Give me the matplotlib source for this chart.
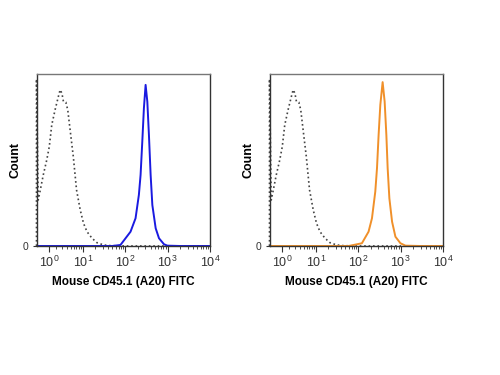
import numpy as np
import matplotlib
matplotlib.use('Agg')
import matplotlib.pyplot as plt
from matplotlib.ticker import FixedLocator, NullFormatter

plt.rcParams['font.family'] = ['Liberation Sans', 'DejaVu Sans']
plt.rcParams['mathtext.fontset'] = 'custom'
plt.rcParams['mathtext.rm'] = 'Liberation Sans'
plt.rcParams['mathtext.it'] = 'Liberation Sans:italic'
plt.rcParams['mathtext.bf'] = 'Liberation Sans:bold'

# isotype control (dotted), same in both panels
iso_x = [-0.4, -0.4, -0.21, -0.02, 0.34, 0.73, 1.03, 1.34, 1.80, 2.31, 2.61, 2.94,
         3.25, 3.77, 4.24, 4.88, 5.87, 7.05, 8.68, 10.4, 12.6, 16.6, 21.8, 31.3, 45.1,
         100, 1000, 10000]
iso_y = [0, 97, 26.7, 31.6, 41.3, 50.0, 57.7, 70.3, 79.1, 86.8, 90.7, 88.8,
         83.9, 83.5, 79.1, 67.4, 51.9, 32.6, 20.9, 13.2, 8.3, 4.5, 1.9, 0.6, 0.2,
         0, 0, 0]

# stained sample, left panel (blue)
blue_x = [-0.4, 1, 10, 50, 77.8, 134.3, 176.4, 211.3, 231.8, 254.2, 277.6, 304.4,
          334.0, 364.5, 399.7, 438.6, 525.4, 628.9, 826, 994, 2000, 10000]
blue_y = [0, 0, 0, 0, 0.6, 8.3, 16.1, 29.7, 41.3, 60.6, 80.1, 93.6,
          83.9, 64.5, 41.3, 23.8, 10.3, 4.5, 1.0, 0.2, 0, 0]

# stained sample, right panel (orange)
orange_x = [-0.4, 1, 10, 60, 123.1, 176.4, 212.3, 254.2, 278.9, 304.4, 334.0, 378.6,
            422.3, 463.5, 497.3, 545.7, 632, 757.5, 994, 1306, 3000, 10000]
orange_y = [0, 0, 0, 0, 1.6, 8.3, 16.1, 31.6, 45.2, 64.5, 82.0, 95.2,
            83.9, 64.5, 45.2, 27.7, 14.1, 5.4, 1.6, 0.2, 0, 0]

major = [1, 10, 100, 1000, 10000]
major_labels = ['$10^{0}$', '$10^{1}$', '$10^{2}$', '$10^{3}$', '$10^{4}$']
minor = [m * d for d in [1, 10, 100, 1000] for m in range(2, 10)]

xlabel = 'Mouse CD45.1 (A20) FITC'


def fwd(x):
    return np.arcsinh(np.asarray(x) / 2.0)


def inv(t):
    return 2.0 * np.sinh(np.asarray(t))


fig = plt.figure(figsize=(5, 3.75), dpi=100)
ax1 = fig.add_axes([0.073, 0.344, 0.347, 0.459])
ax2 = fig.add_axes([0.539, 0.344, 0.347, 0.459])

for ax, sx, sy, col in [(ax1, blue_x, blue_y, '#1a1ae0'), (ax2, orange_x, orange_y, '#f0902a')]:
    ax.set_xscale('function', functions=(fwd, inv))
    ax.plot(iso_x, iso_y, color='#444444', linestyle=':', linewidth=1.2, clip_on=False)
    ax.plot(sx, sy, color=col, linewidth=1.4)
    ax.set_xlim(-0.4, 10000)
    ax.set_ylim(0, 100)
    ax.xaxis.set_major_locator(FixedLocator(major))
    ax.set_xticklabels(major_labels)
    ax.xaxis.set_minor_locator(FixedLocator(minor))
    ax.xaxis.set_minor_formatter(NullFormatter())
    ax.set_yticks([0])
    ax.set_yticklabels(['0'])
    ax.tick_params(axis='x', which='major', direction='out', length=4, width=0.8,
                   labelsize=9, colors='#333333', pad=2)
    ax.tick_params(axis='x', which='minor', direction='out', length=2.5, width=0.6,
                   colors='#333333')
    ax.tick_params(axis='y', direction='out', length=3, width=0.8, labelsize=7.5,
                   colors='#333333', pad=3)
    for s in ax.spines.values():
        s.set_color('#333333')
        s.set_linewidth(1.0)
    ax.spines['top'].set_color('#777777')
    ax.set_xlabel(xlabel, fontsize=8.5, fontweight='bold', labelpad=5)
    ax.set_ylabel('Count', fontsize=9, fontweight='bold', labelpad=0.5)

fig.savefig('out.png', dpi=100)
